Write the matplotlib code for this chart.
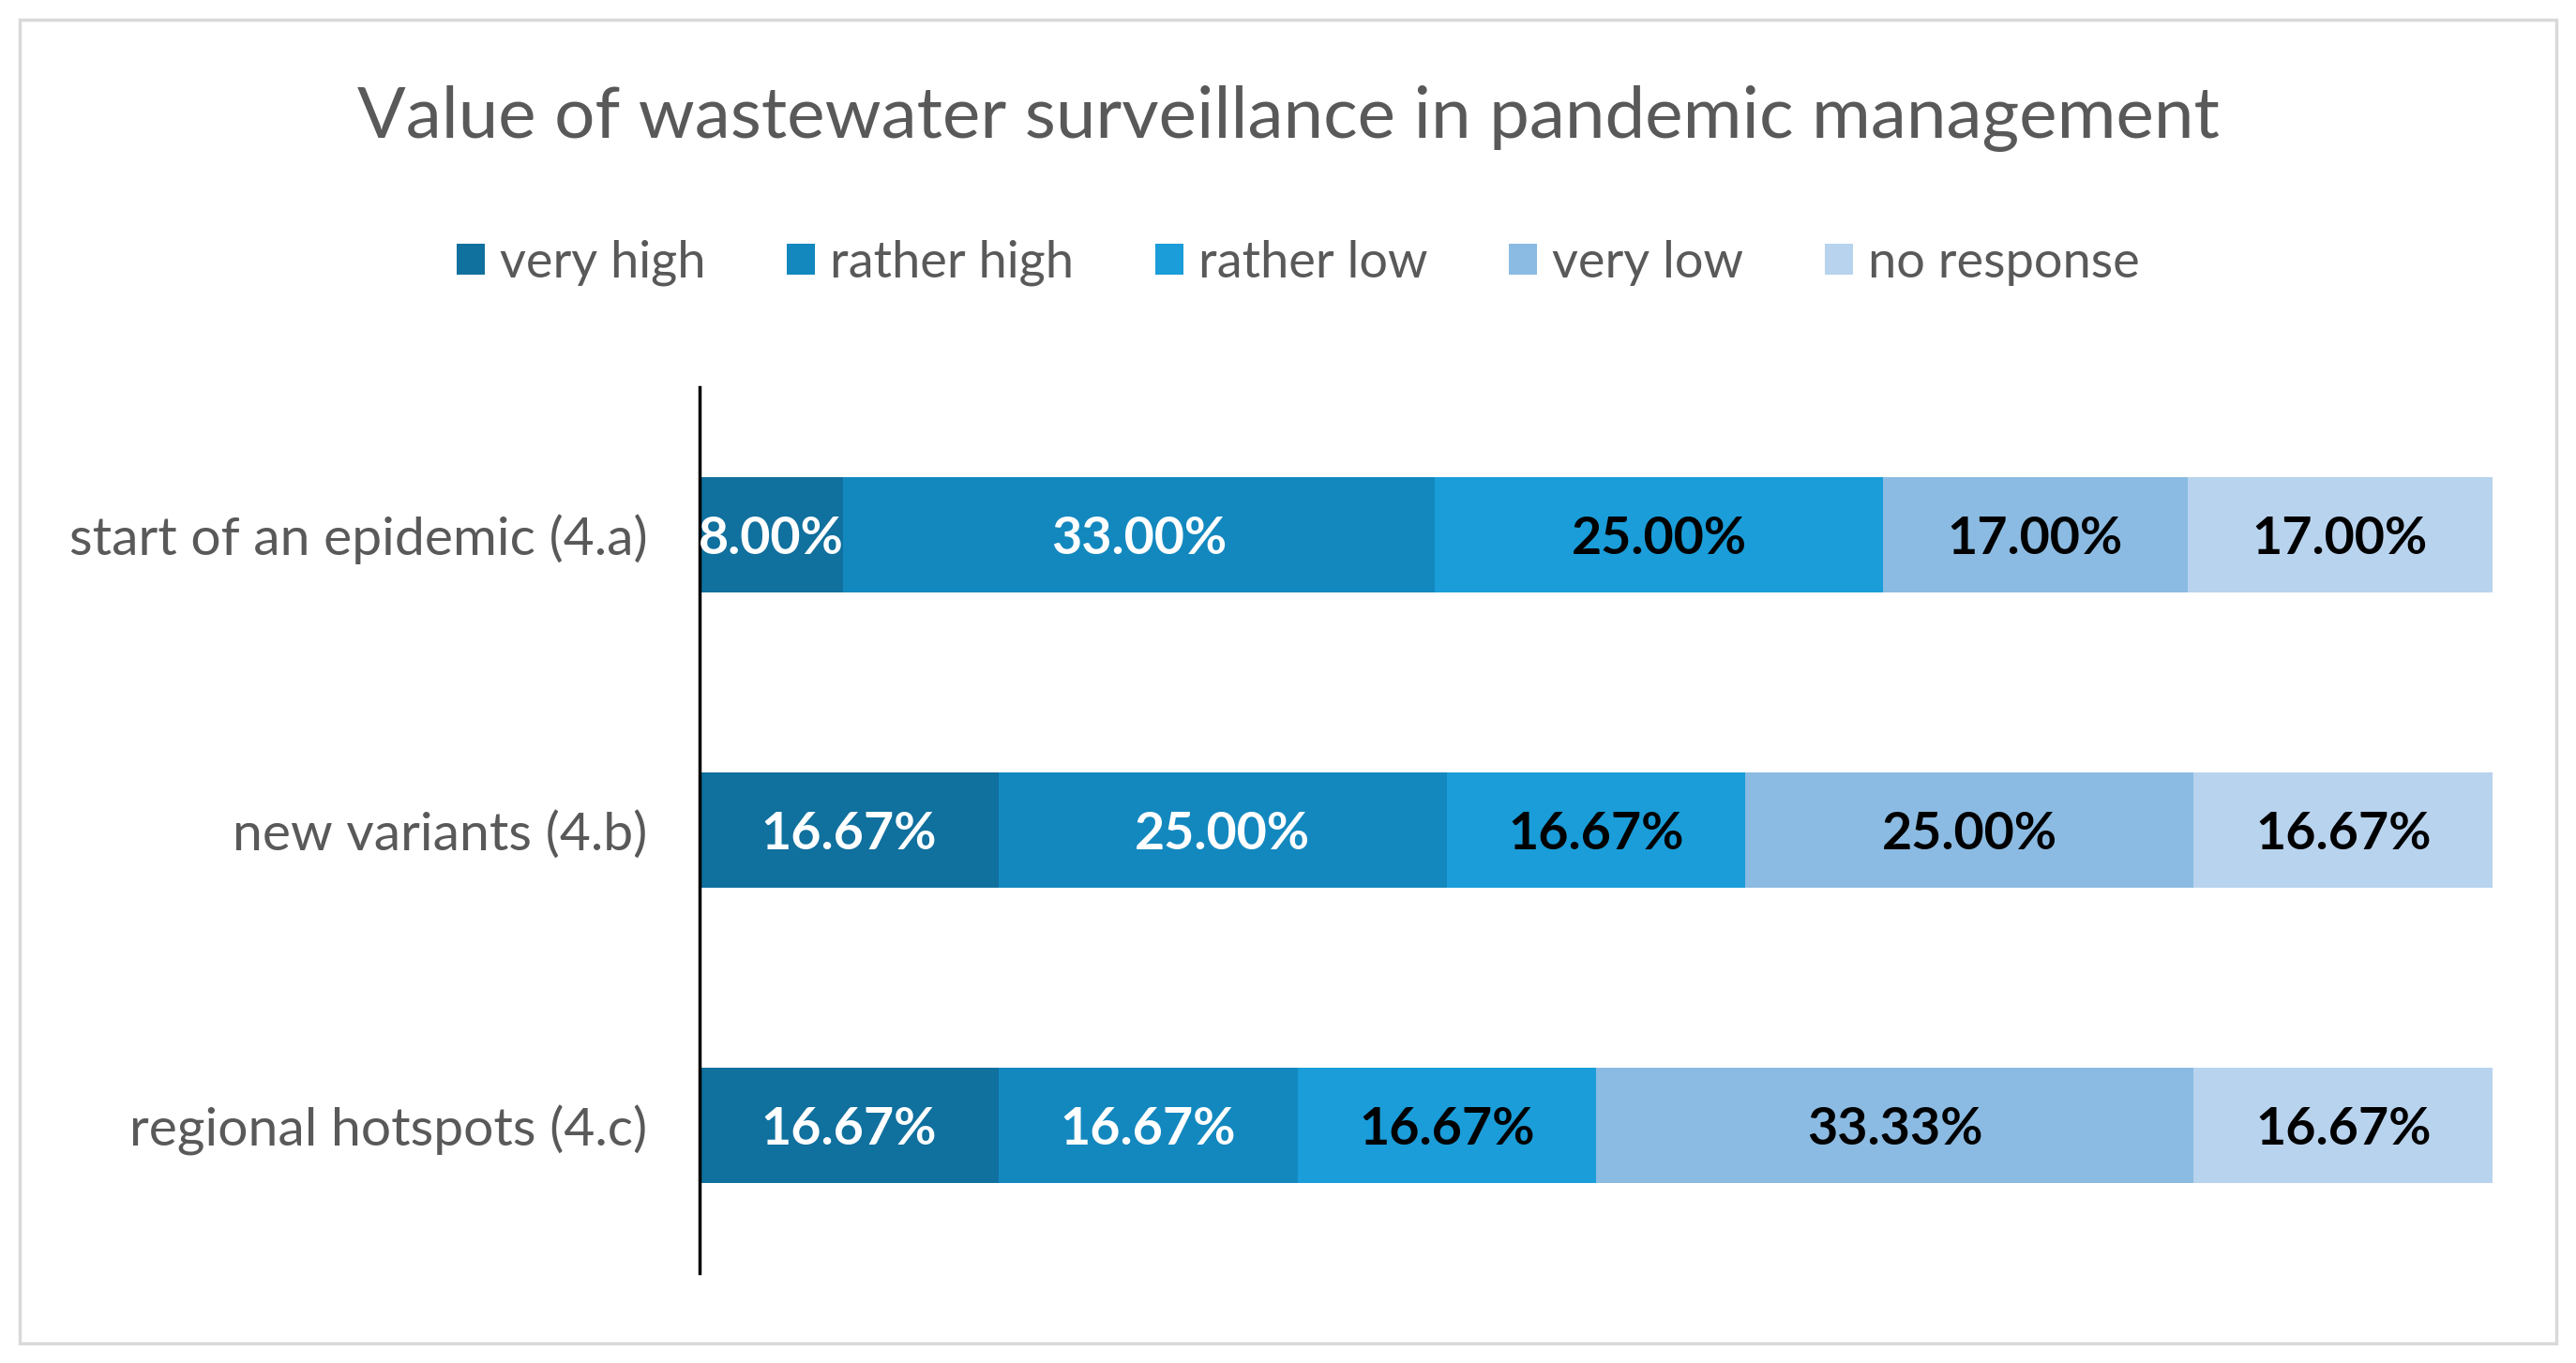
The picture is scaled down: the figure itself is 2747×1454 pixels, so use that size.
import matplotlib.pyplot as plt
from matplotlib.patches import Rectangle

categories = ["start of an epidemic (4.a)", "new variants (4.b)", "regional hotspots (4.c)"]
series_names = ["very high", "rather high", "rather low", "very low", "no response"]
very_high = [8.00, 16.67, 16.67]
rather_high = [33.00, 25.00, 16.67]
rather_low = [25.00, 16.67, 16.67]
very_low = [17.00, 25.00, 33.33]
no_response = [17.00, 16.67, 16.67]

colors = ["#10709E", "#1388BF", "#1A9DD9", "#8BBBE2", "#B8D3EE"]
label_colors = ["white", "white", "black", "black", "black"]

plt.rcParams["font.family"] = ["Lato", "DejaVu Sans"]

fig = plt.figure(figsize=(27.47, 14.54), dpi=100)
ax = fig.add_axes([0.2716, 0.066, 0.696, 0.650])

series = [very_high, rather_high, rather_low, very_low, no_response]
left = [0.0] * len(categories)
ypos = list(range(len(categories)))
for name, vals, col, tcol in zip(series_names, series, colors, label_colors):
    bars = ax.barh(ypos, vals, left=left, height=0.39, color=col, label=name)
    for b, v in zip(bars, vals):
        ax.text(b.get_x() + b.get_width() / 2, b.get_y() + b.get_height() / 2 + 0.015,
                f"{v:.2f}%", ha="center", va="center", color=tcol,
                fontsize=40, fontweight="bold")
    left = [a + b for a, b in zip(left, vals)]

ax.set_xlim(0, 100)
ax.set_ylim(2.5, -0.5)
ax.set_yticks(ypos)
ax.set_yticklabels(categories, fontsize=41, color="#595959")
ax.tick_params(axis="y", length=0, pad=40)
ax.set_xticks([])
for side in ["top", "right", "bottom"]:
    ax.spines[side].set_visible(False)
ax.spines["left"].set_linewidth(2.5)
ax.spines["left"].set_color("black")

fig.text(0.5, 0.913, "Value of wastewater surveillance in pandemic management",
         ha="center", va="center", fontsize=55, color="#595959")

leg = fig.legend(loc="center", bbox_to_anchor=(0.504, 0.807), ncol=5, frameon=False,
                 fontsize=39, handlelength=0.55, handleheight=0.55, handletextpad=0.3,
                 columnspacing=1.6)
for t in leg.get_texts():
    t.set_color("#595959")

fig.patches.append(Rectangle((21 / 2747, 1 - 1433 / 1454), (2726 - 21) / 2747, (1433 - 21) / 1454,
                             transform=fig.transFigure, fill=False, edgecolor="#D9D9D9",
                             linewidth=2.5))

fig.savefig("out.png", dpi=100)
